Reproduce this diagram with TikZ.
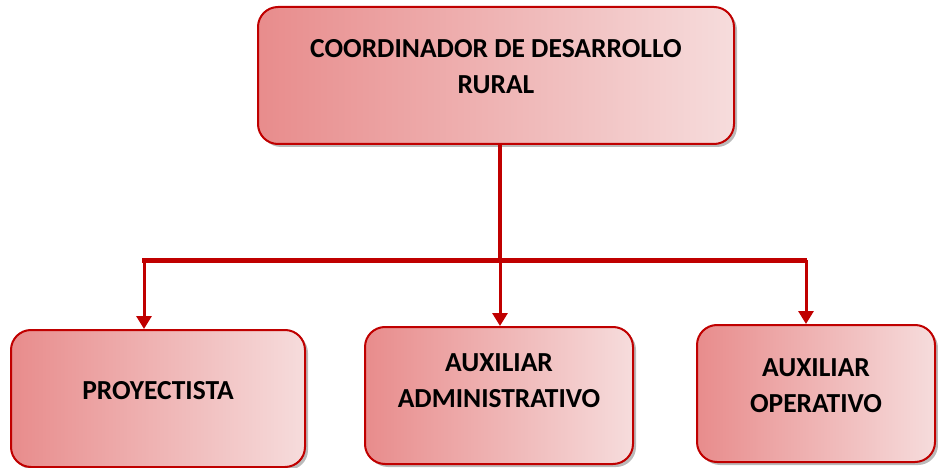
\documentclass[tikz,border=0pt]{standalone}
\usepackage{fontspec}
\setmainfont{Carlito}
\usetikzlibrary{shadows,arrows.meta}
\definecolor{bordo}{HTML}{C00000}
\definecolor{gleft}{HTML}{E88C8C}
\definecolor{gright}{HTML}{F6DCDC}
\tikzset{
  orgbox/.style={draw=bordo, line width=2pt, rounded corners=20pt,
    left color=gleft, right color=gright,
    drop shadow={shadow xshift=3pt, shadow yshift=-3pt, opacity=0.45, fill=black!60},
    inner sep=0pt},
  lbl/.style={font=\fontsize{27.5}{36}\selectfont\bfseries, align=center, text=black},
  conn/.style={draw=bordo, line width=#1},
  arr/.style={draw=bordo, line width=3pt, -{Triangle[width=15pt,length=13pt]}}
}
\begin{document}
\begin{tikzpicture}[x=1pt,y=-1pt]
\useasboundingbox (0,0) rectangle (938,468);
\node[orgbox, minimum width=476pt, minimum height=137pt] (top) at (496,75.5) {};
\node[lbl] (toptext) at ([yshift=9pt]top.center) {COORDINADOR DE DESARROLLO\\RURAL};
\node[orgbox, minimum width=294pt, minimum height=137pt] (p) at (158,398.5) {};
\node[lbl] (ptext) at ([yshift=8pt]p.center) {PROYECTISTA};
\node[orgbox, minimum width=268pt, minimum height=137pt] (a) at (499,395.5) {};
\node[lbl] (atext) at ([yshift=15pt]a.center) {AUXILIAR\\ADMINISTRATIVO};
\node[orgbox, minimum width=238pt, minimum height=137pt] (o) at (816,393.5) {};
\node[lbl] (otext) at ([yshift=8pt]o.center) {AUXILIAR\\OPERATIVO};
\coordinate (bl) at (142,260);
\coordinate (br) at (807,260);
\coordinate (bt) at (500,260);
\coordinate (ax) at (500,260);
\draw[conn=4pt] (top.south -| bt) -- (bt);
\draw[conn=5pt] (bl) -- (br);
\draw[arr] ([xshift=2pt]bl) -- ([xshift=2pt]bl |- p.north);
\draw[arr] (ax) -- (ax |- a.north);
\draw[arr] ([xshift=-1pt]br) -- ([xshift=-1pt]br |- o.north);
\end{tikzpicture}
\end{document}
